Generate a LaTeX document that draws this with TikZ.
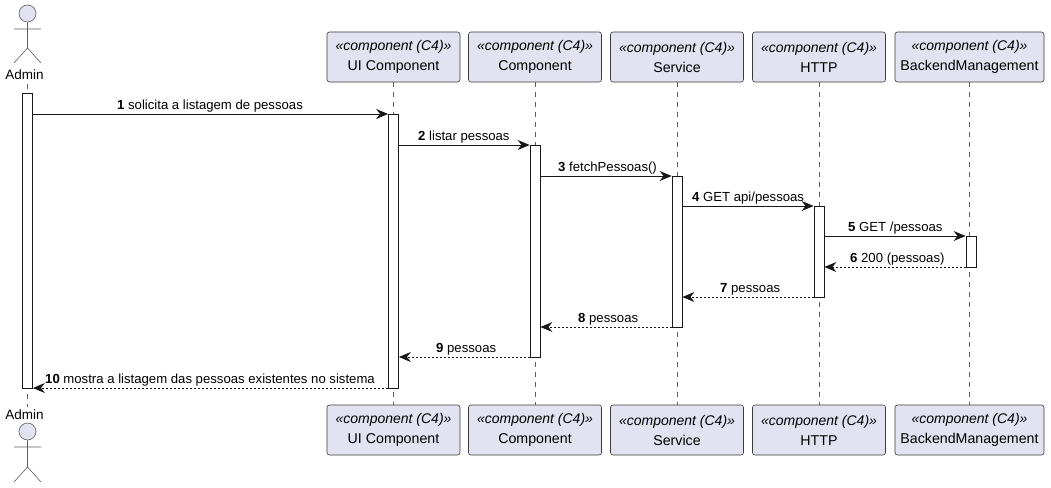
\documentclass[tikz,border=0pt]{standalone}
\usepackage{fontspec}
\setmainfont{Liberation Sans}
\usetikzlibrary{arrows.meta}
\definecolor{ink}{HTML}{181818}
\definecolor{lav}{HTML}{E2E2F0}
\tikzset{
 x=1pt,y=-1pt,
 lifeline/.style={draw=ink!70,line width=.6pt,dash pattern=on 5pt off 5pt},
 part/.style={draw=ink!85,line width=.6pt,fill=lav,rounded corners=2.5pt,minimum height=50pt,inner sep=0pt,align=center,font=\fontsize{14.2}{20}\selectfont},
 bar/.style={draw=ink,line width=.8pt,fill=white,minimum width=10pt,inner sep=0pt},
 msg/.style={draw=ink,line width=.8pt,-{Stealth[length=12pt,width=10pt,inset=4pt,color=ink]}},
 ret/.style={msg,dash pattern=on 2pt off 2pt},
 lbl/.style={anchor=base west,inner sep=0pt,font=\fontsize{13.15}{15}\selectfont,text=black},
 actorline/.style={draw=ink!70,line width=.6pt},
 actorhead/.style={circle,draw=ink!70,line width=.6pt,fill=lav,minimum size=17pt,inner sep=0pt},
 actorname/.style={inner sep=0pt,font=\fontsize{13.5}{16}\selectfont,text=black},
}
\newcommand{\stereo}[1]{\raisebox{0pt}{\itshape\fontsize{14}{20}\selectfont «component (C4)»}\\#1}
\begin{document}
\begin{tikzpicture}
\useasboundingbox (0,0) rectangle (1051,487);
% participants
\node[part,minimum width=133pt] (ut) at (393.5,57) {\stereo{UI Component}};
\node[part,minimum width=133pt] (ct) at (535,57) {\stereo{Component}};
\node[part,minimum width=133pt] (st) at (677,57) {\stereo{Service}};
\node[part,minimum width=133pt] (ht) at (819,57) {\stereo{HTTP}};
\node[part,minimum width=149pt] (bt) at (969.5,57) {\stereo{BackendManagement}};
\node[part,minimum width=133pt] (ub) at (393.5,430) {\stereo{UI Component}};
\node[part,minimum width=133pt] (cb) at (535,430) {\stereo{Component}};
\node[part,minimum width=133pt] (sb) at (677,430) {\stereo{Service}};
\node[part,minimum width=133pt] (hb) at (819,430) {\stereo{HTTP}};
\node[part,minimum width=149pt] (bb) at (969.5,430) {\stereo{BackendManagement}};
% actors
\node[actorname] (at) at (24.5,75) {Admin};
\node[actorname] (ab) at (24.5,415) {Admin};
\node[actorhead] (aht) at (27.5,13.5) {};
\node[actorhead] (ahb) at (27.5,431.5) {};
\draw[actorline] (aht.south) -- (27.5,48) coordinate (hipt) -- (14,63) (hipt) -- (41,63) (14,29) -- (41,29);
\draw[actorline] (ahb.south) -- (27.5,467) coordinate (hipb) -- (14,482) (hipb) -- (41,482) (14,447) -- (41,447);
% lifelines
\draw[lifeline] (27.5,84) -- (27.5,407);
\draw[lifeline] (ut) -- (ub);
\draw[lifeline] (ct) -- (cb);
\draw[lifeline] (st) -- (sb);
\draw[lifeline] (ht) -- (hb);
\draw[lifeline] (bt) -- (bb);
% activations
\node[bar,minimum height=295pt] (a0) at (27.5,240.5) {};
\node[bar,minimum height=274pt] (a1) at (393.5,251) {};
\node[bar,minimum height=212pt] (a2) at (535,251) {};
\node[bar,minimum height=151pt] (a3) at (677,251.5) {};
\node[bar,minimum height=91pt] (a4) at (819,251.5) {};
\node[bar,minimum height=31pt] (a5) at (971,251.5) {};
% messages
\draw[msg] (a0.east |- 0,114) -- (a1.west |- 0,114);
\draw[msg] (a1.east |- 0,145) -- (a2.west |- 0,145);
\draw[msg] (a2.east |- 0,176) -- (a3.west |- 0,176);
\draw[msg] (a3.east |- 0,206) -- (a4.west |- 0,206);
\draw[msg] (a4.east |- 0,236) -- (a5.west |- 0,236);
\draw[ret] (a5.west |- 0,267) -- (a4.east |- 0,267);
\draw[ret] (a4.west |- 0,297) -- (a3.east |- 0,297);
\draw[ret] (a3.west |- 0,327) -- (a2.east |- 0,327);
\draw[ret] (a2.west |- 0,357) -- (a1.east |- 0,357);
\draw[ret] (a1.west |- 0,388) -- (a0.east |- 0,388);
% labels
\node[lbl] (m1) at (117,109) {\textbf{1} solicita a listagem de pessoas};
\node[lbl] (m2) at (418,140) {\textbf{2} listar pessoas};
\node[lbl] (m3) at (558,171) {\textbf{3} fetchPessoas()};
\node[lbl] (m4) at (692,201) {\textbf{4} GET api/pessoas};
\node[lbl] (m5) at (848,231) {\textbf{5} GET /pessoas};
\node[lbl] (m6) at (850,262) {\textbf{6} 200 (pessoas)};
\node[lbl] (m7) at (720,292) {\textbf{7} pessoas};
\node[lbl] (m8) at (578,322) {\textbf{8} pessoas};
\node[lbl] (m9) at (436,352) {\textbf{9} pessoas};
\node[lbl] (m10) at (45,383) {\textbf{10} mostra a listagem das pessoas existentes no sistema};
\end{tikzpicture}
\end{document}
